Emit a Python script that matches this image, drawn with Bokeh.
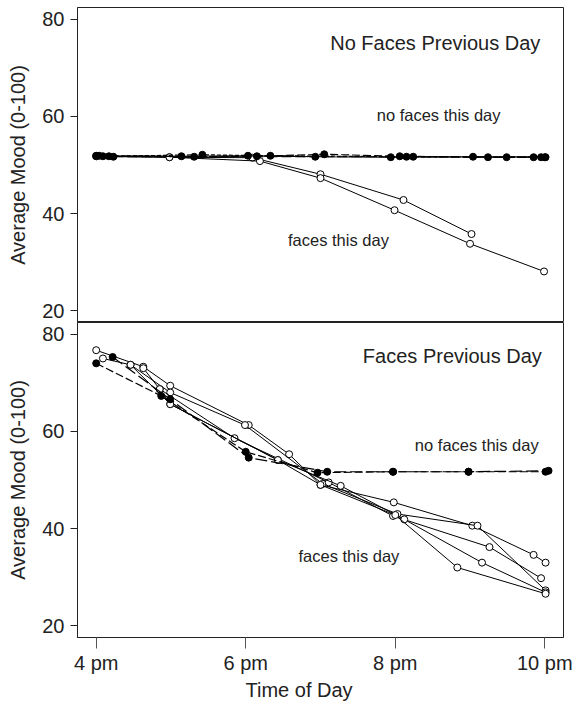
from bokeh.plotting import figure
from bokeh.layouts import column
from bokeh.models import Range1d, FixedTicker, Label, Title
from bokeh.embed import file_html
from bokeh.resources import INLINE

# ---------------- data ----------------
time_ticks = [16, 18, 20, 22]
time_tick_labels = {16: "4 pm", 18: "6 pm", 20: "8 pm", 22: "10 pm"}
mood_ticks = [20, 40, 60, 80]

# Top panel: No Faces Previous Day
# no faces this day (filled)
top_nf1_t = [16.00, 17.14, 18.03, 18.93, 19.94, 21.04, 22.01]
top_nf1_m = [51.9, 51.8, 51.9, 51.7, 51.6, 51.7, 51.6]
top_nf2_t = [16.04, 17.31, 18.15, 19.05, 20.06, 21.24, 21.85]
top_nf2_m = [51.9, 51.7, 51.8, 52.2, 51.8, 51.6, 51.6]
top_nf3_t = [16.09, 16.17, 17.42, 18.33, 20.15, 21.49, 21.95]
top_nf3_m = [51.8, 51.8, 52.1, 51.9, 51.7, 51.6, 51.6]
top_nf4_t = [16.23, 20.24, 22.00]
top_nf4_m = [51.7, 51.7, 51.6]
# faces this day (open)
top_f1_t = [16.00, 16.98, 18.09, 19.00, 20.11, 21.02]
top_f1_m = [51.8, 51.6, 51.5, 48.1, 42.8, 35.8]
top_f2_t = [16.00, 16.98, 18.19, 19.00, 19.99, 21.00, 21.99]
top_f2_m = [51.8, 51.6, 50.8, 47.3, 40.7, 33.8, 28.1]

# Bottom panel: Faces Previous Day
# no faces this day (filled)
bot_nf1_t = [16.00, 16.87, 18.00, 18.96, 19.97, 20.98, 22.01]
bot_nf1_m = [74.0, 67.3, 55.8, 51.5, 51.7, 51.7, 51.7]
bot_nf2_t = [16.22, 16.99, 18.04, 19.09, 19.97, 20.98, 22.05]
bot_nf2_m = [75.3, 66.6, 54.6, 51.7, 51.7, 51.7, 51.9]
# faces this day (open)
bot_f1_t = [16.00, 16.63, 16.99, 18.04, 18.58, 19.00, 19.98, 21.03, 21.85, 22.01]
bot_f1_m = [76.7, 73.3, 69.4, 61.3, 55.3, 49.0, 45.4, 40.6, 34.6, 33.0]
bot_f2_t = [16.09, 16.46, 16.99, 17.99, 19.03, 20.03, 21.10, 22.01]
bot_f2_m = [75.0, 73.7, 68.0, 61.3, 49.2, 43.0, 40.6, 27.3]
bot_f3_t = [16.63, 16.85, 17.85, 19.11, 19.97, 21.26, 21.95]
bot_f3_m = [73.0, 68.7, 58.6, 49.5, 42.6, 36.2, 29.8]
bot_f4_t = [16.85, 16.99, 18.43, 19.27, 20.12, 21.16, 22.01]
bot_f4_m = [68.7, 65.6, 54.1, 48.8, 41.9, 33.0, 26.9]
bot_f5_t = [16.46, 16.99, 18.43, 19.00, 20.00, 20.83, 22.01]
bot_f5_m = [73.7, 65.6, 54.1, 49.0, 42.8, 32.0, 26.6]

FONT = "Liberation Sans"
TXT = "#222222"


def make_panel(height, show_x, min_top, min_bottom):
    p = figure(width=575, height=height, output_backend="svg", toolbar_location=None,
               x_range=Range1d(15.75, 22.25), y_range=Range1d(17.6, 82.4),
               min_border_left=77, min_border_right=12, min_border_top=min_top,
               min_border_bottom=min_bottom)
    p.grid.visible = False
    p.outline_line_color = "#222222"
    p.outline_line_width = 1
    p.background_fill_color = "white"
    p.border_fill_color = "white"
    p.yaxis.ticker = FixedTicker(ticks=mood_ticks)
    p.yaxis.minor_tick_line_color = None
    p.yaxis.major_tick_in = 0
    p.yaxis.major_tick_out = 7
    p.yaxis.major_label_standoff = 6
    p.yaxis.major_label_text_font = FONT
    p.yaxis.major_label_text_font_size = "20px"
    p.yaxis.major_label_text_color = TXT
    p.yaxis.axis_label = "Average Mood (0-100)"
    p.yaxis.axis_label_text_font = FONT
    p.yaxis.axis_label_text_font_size = "20px"
    p.yaxis.axis_label_text_font_style = "normal"
    p.yaxis.axis_label_text_color = TXT
    p.yaxis.axis_label_standoff = 10
    p.yaxis.axis_line_color = "#222222"
    p.yaxis.major_tick_line_color = "#222222"
    p.xaxis.ticker = FixedTicker(ticks=time_ticks)
    p.xaxis.major_label_overrides = time_tick_labels
    p.xaxis.minor_tick_line_color = None
    p.xaxis.major_tick_in = 0
    p.xaxis.major_tick_out = 11
    p.xaxis.major_label_standoff = 3
    p.xaxis.major_label_text_font = FONT
    p.xaxis.major_label_text_font_size = "20px"
    p.xaxis.major_label_text_color = TXT
    p.xaxis.axis_line_color = "#222222"
    p.xaxis.major_tick_line_color = "#555555"
    if show_x:
        p.add_layout(Title(text="Time of Day", align="left", offset=168, standoff=0,
                           text_font=FONT, text_font_size="20px", text_font_style="normal",
                           text_color=TXT), "below")
    else:
        p.xaxis.visible = False
    return p


def open_series(p, t, m):
    p.line(t, m, line_color="black", line_width=1)
    p.scatter(t, m, marker="circle", size=7, fill_color="white", line_color="black", line_width=1)


def filled_series(p, t, m, dash):
    p.line(t, m, line_color="black", line_width=1.2, line_dash=dash)
    p.scatter(t, m, marker="circle", size=7, fill_color="black", line_color="black")


def label(p, x, y, text, size, align):
    p.add_layout(Label(x=x, y=y, text=text, text_font=FONT, text_font_size=size,
                       text_color=TXT, text_align=align, text_baseline="middle"))


# top panel
p1 = make_panel(322, False, 7, 0)
open_series(p1, top_f1_t, top_f1_m)
open_series(p1, top_f2_t, top_f2_m)
filled_series(p1, top_nf1_t, top_nf1_m, "solid")
filled_series(p1, top_nf2_t, top_nf2_m, "8 3")
filled_series(p1, top_nf3_t, top_nf3_m, "4 2")
filled_series(p1, top_nf4_t, top_nf4_m, "10 4")
label(p1, 21.94, 75.1, "No Faces Previous Day", "20px", "right")
label(p1, 20.58, 60.3, "no faces this day", "16.5px", "center")
label(p1, 19.24, 34.6, "faces this day", "16.5px", "center")

# bottom panel
p2 = make_panel(380, True, 0, 65)
open_series(p2, bot_f1_t, bot_f1_m)
open_series(p2, bot_f2_t, bot_f2_m)
open_series(p2, bot_f3_t, bot_f3_m)
open_series(p2, bot_f4_t, bot_f4_m)
open_series(p2, bot_f5_t, bot_f5_m)
filled_series(p2, bot_nf1_t, bot_nf1_m, "8 3")
filled_series(p2, bot_nf2_t, bot_nf2_m, "12 4")
label(p2, 21.96, 75.5, "Faces Previous Day", "20px", "right")
label(p2, 21.09, 57.2, "no faces this day", "16.5px", "center")
label(p2, 19.38, 34.4, "faces this day", "16.5px", "center")

layout = column(p1, p2, spacing=0)
open("out.html", "w").write(file_html(layout, INLINE))
